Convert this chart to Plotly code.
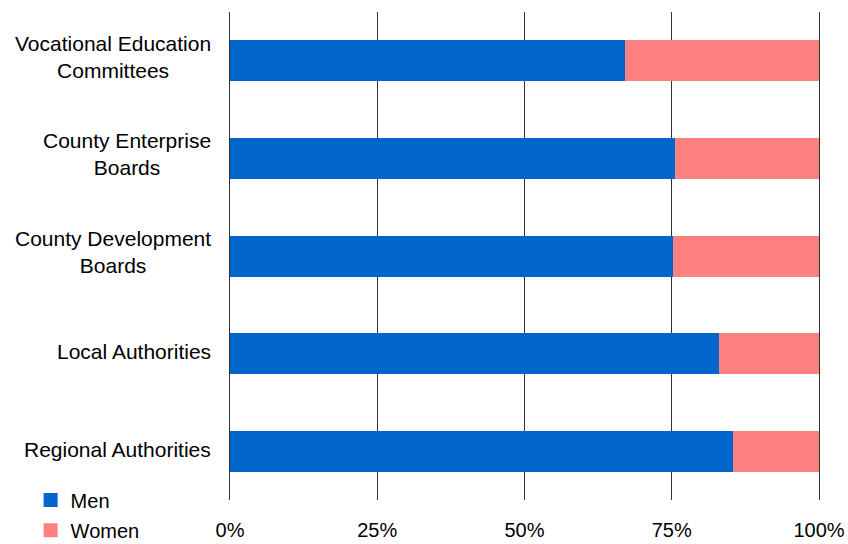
import plotly.graph_objects as go

# Board membership by gender, share of members (%)
bodies = [
    "Vocational Education<br>Committees",
    "County Enterprise<br>Boards",
    "County Development<br>Boards",
    "Local Authorities",
    "Regional Authorities",
]
men = [67.1, 75.6, 75.2, 83.0, 85.4]
women = [round(100 - m, 1) for m in men]
tick_vals = [0, 25, 50, 75, 100]
tick_text = ["0%", "25%", "50%", "75%", "100%"]

series = [("Men", men, "#0066CC", "legend"), ("Women", women, "#FF8080", "legend2")]

font_family = "Liberation Sans, Arial, sans-serif"
grid_color = "#333333"

fig = go.Figure()
for name, vals, color, leg in series:
    fig.add_trace(go.Bar(y=bodies, x=vals, name=name, orientation="h",
                         marker=dict(color=color, line=dict(width=0)),
                         showlegend=False))
    # Legend entry with a larger square swatch
    fig.add_trace(go.Scatter(x=[None], y=[None], mode="markers", name=name,
                             marker=dict(symbol="square", size=14, color=color),
                             legend=leg, showlegend=True, hoverinfo="skip"))

# Category labels as centred multi-line annotations
for b in bodies:
    two_line = "<br>" in b
    fig.add_annotation(x=0, y=b, xref="paper", yref="y", text=b,
                       xanchor="right", yanchor="middle", align="center",
                       xshift=-17, yshift=4 if two_line else 2, showarrow=False,
                       font=dict(family=font_family, size=21, color="#000"))

legend_common = dict(orientation="v", x=-0.3385, xanchor="left",
                     yanchor="middle", font=dict(size=20, color="#000"),
                     bgcolor="rgba(0,0,0,0)", itemwidth=30)

fig.update_layout(
    width=848, height=544,
    margin=dict(l=229.5, r=29, t=12, b=44, autoexpand=False),
    barmode="stack", bargap=0.58,
    plot_bgcolor="white", paper_bgcolor="white",
    font=dict(family=font_family, size=20, color="#000"),
    showlegend=True,
    legend=dict(y=0.0, **legend_common),
    legend2=dict(y=-0.062, **legend_common),
    xaxis=dict(range=[0, 100], tickvals=tick_vals, ticktext=tick_text,
               showgrid=True, gridcolor=grid_color, gridwidth=1,
               zeroline=False, showline=False, ticks="",
               ticklabelstandoff=16, automargin=False, fixedrange=True),
    yaxis=dict(autorange="reversed", showticklabels=False, showgrid=False,
               zeroline=False, showline=True, mirror=True,
               linecolor=grid_color, linewidth=1, ticks="",
               automargin=False, fixedrange=True),
)

fig.write_html("out.html")
